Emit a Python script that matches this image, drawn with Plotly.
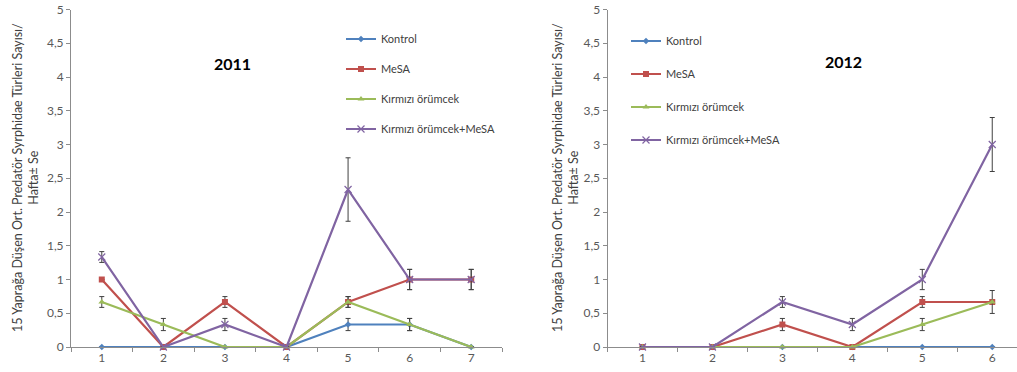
import plotly.graph_objects as go

# Weekly samples (Hafta) for each year
weeks_2011 = ["1", "2", "3", "4", "5", "6", "7"]
weeks_2012 = ["1", "2", "3", "4", "5", "6"]

series_names = ["Kontrol", "MeSA", "Kırmızı örümcek", "Kırmızı örümcek+MeSA"]

# 2011 means and standard errors
kontrol_2011 = [0, 0, 0, 0, 0.333, 0.333, 0]
kontrol_2011_se = [None, None, None, None, 0.09, 0.09, None]
mesa_2011 = [1, 0, 0.667, 0, 0.667, 1, 1]
mesa_2011_se = [None, None, 0.08, None, 0.08, 0.15, 0.15]
orumcek_2011 = [0.667, 0.333, 0, 0, 0.667, 0.333, 0]
orumcek_2011_se = [0.08, 0.09, None, None, 0.08, 0.09, None]
orumcek_mesa_2011 = [1.333, 0, 0.333, 0, 2.333, 1, 1]
orumcek_mesa_2011_se = [0.08, None, 0.09, None, 0.47, 0.15, 0.15]

# 2012 means and standard errors
kontrol_2012 = [0, 0, 0, 0, 0, 0]
kontrol_2012_se = [None, None, None, None, None, None]
mesa_2012 = [0, 0, 0.333, 0, 0.667, 0.667]
mesa_2012_se = [None, None, 0.09, None, 0.08, None]
orumcek_2012 = [0, 0, 0, 0, 0.333, 0.667]
orumcek_2012_se = [None, None, None, None, 0.09, 0.17]
orumcek_mesa_2012 = [0, 0, 0.667, 0.333, 1, 3]
orumcek_mesa_2012_se = [None, None, 0.08, 0.09, 0.15, 0.4]

y_tickvals = [0, 0.5, 1, 1.5, 2, 2.5, 3, 3.5, 4, 4.5, 5]
y_ticktext = ["0", "0,5", "1", "1,5", "2", "2,5", "3", "3,5", "4", "4,5", "5"]

y_title = "15 Yaprağa Düşen Ort. Predatör Syrphidae Türleri Sayısı/<br>Hafta± Se"

FONT = "Lato, 'Liberation Sans', sans-serif"
colors = ["#4F81BD", "#C0504D", "#9BBB59", "#8064A2"]
symbols = ["diamond", "square", "triangle-up", "x-thin"]
msizes = [5, 6, 6, 7]

W, H = 1017, 372


def px_x(p):
    return p / W


def px_y(p):
    return (H - p) / H


fig = go.Figure()

panels = [
    (weeks_2011, [kontrol_2011, mesa_2011, orumcek_2011, orumcek_mesa_2011],
     [kontrol_2011_se, mesa_2011_se, orumcek_2011_se, orumcek_mesa_2011_se], "x", "y", "legend"),
    (weeks_2012, [kontrol_2012, mesa_2012, orumcek_2012, orumcek_mesa_2012],
     [kontrol_2012_se, mesa_2012_se, orumcek_2012_se, orumcek_mesa_2012_se], "x2", "y2", "legend2"),
]

for weeks, values, errors, xa, ya, leg in panels:
    for i, name in enumerate(series_names):
        marker = dict(symbol=symbols[i], size=msizes[i], color=colors[i])
        if symbols[i] == "x-thin":
            marker["line"] = dict(color=colors[i], width=1.2)
        fig.add_trace(go.Scatter(
            x=weeks, y=values[i], name=name, mode="lines+markers",
            line=dict(color=colors[i], width=2.2),
            marker=marker,
            error_y=dict(type="data", array=errors[i], visible=True,
                         color="#404040", thickness=1, width=2.5),
            xaxis=xa, yaxis=ya, legend=leg, legendgroup=name + leg,
            cliponaxis=False,
        ))

axis_common = dict(showgrid=False, zeroline=False, showline=True,
                   linecolor="#8C8C8C", linewidth=1, ticks="outside",
                   tickcolor="#8C8C8C", ticklen=4,
                   tickfont=dict(family=FONT, size=12, color="#595959"))

yd = [px_y(347), px_y(9.5)]

fig.update_layout(
    width=W, height=H,
    margin=dict(l=0, r=0, t=0, b=0),
    template="none",
    paper_bgcolor="white", plot_bgcolor="white",
    font=dict(family=FONT, color="#404040"),
    xaxis=dict(domain=[px_x(71), px_x(502)], type="category",
               range=[-0.5, 6.5], tickson="boundaries", anchor="y",
               automargin=False, **axis_common),
    yaxis=dict(domain=yd, range=[0, 5], tickvals=y_tickvals, ticktext=y_ticktext,
               anchor="x", automargin=False, **axis_common),
    xaxis2=dict(domain=[px_x(607.5), 1.0], type="category",
                range=[-0.5, 5.354], tickson="boundaries", anchor="y2",
                automargin=False, **axis_common),
    yaxis2=dict(domain=yd, range=[0, 5], tickvals=y_tickvals, ticktext=y_ticktext,
                anchor="x2", automargin=False, **axis_common),
    legend=dict(x=px_x(341), y=px_y(24.5), xanchor="left", yanchor="top",
                bgcolor="rgba(0,0,0,0)", tracegroupgap=11,
                font=dict(family=FONT, size=11, color="#404040")),
    legend2=dict(x=px_x(626), y=px_y(26.5), xanchor="left", yanchor="top",
                 bgcolor="rgba(0,0,0,0)", tracegroupgap=14,
                 font=dict(family=FONT, size=11, color="#404040")),
    showlegend=True,
)

# Year labels
fig.add_annotation(text="<b>2011</b>", x=px_x(232), y=px_y(64), xref="paper", yref="paper",
                   xanchor="center", yanchor="middle", showarrow=False,
                   font=dict(family=FONT, size=16, color="black"))
fig.add_annotation(text="<b>2012</b>", x=px_x(843), y=px_y(62), xref="paper", yref="paper",
                   xanchor="center", yanchor="middle", showarrow=False,
                   font=dict(family=FONT, size=16, color="black"))

# Vertical axis titles
for xc in (25, 565):
    fig.add_annotation(text=y_title, x=px_x(xc), y=px_y(178), xref="paper", yref="paper",
                       xanchor="center", yanchor="middle", align="center",
                       showarrow=False, textangle=-90,
                       font=dict(family=FONT, size=12.5, color="#404040"))

fig.write_html("out.html")
